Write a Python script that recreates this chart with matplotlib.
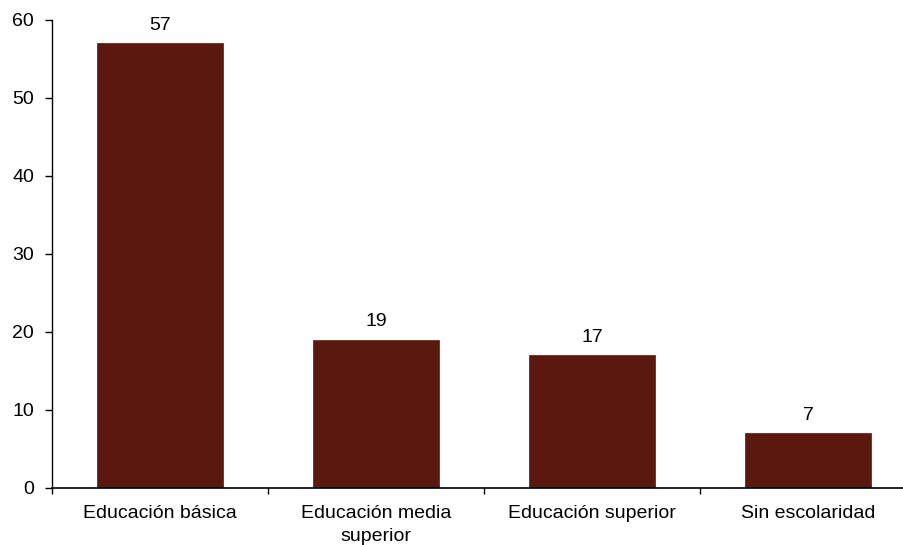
import matplotlib
matplotlib.use('Agg')
import matplotlib.pyplot as plt
import numpy as np

plt.rcParams['font.family'] = ['Liberation Sans', 'DejaVu Sans']

# categories and values
categories = ['Educación básica', 'Educación media\nsuperior', 'Educación superior', 'Sin escolaridad']
values = [57, 19, 17, 7]
yticks = [0, 10, 20, 30, 40, 50, 60]

BAR_COLOR = '#5A180F'

fig = plt.figure(figsize=(9.04, 5.45), dpi=100)
# axes runs off the right edge of the figure, as in the reference
ax = fig.add_axes([52 / 904, 57 / 545, 864 / 904, 468 / 545])

x = np.arange(len(categories))
bars = ax.bar(x, values, width=0.585, color=BAR_COLOR, edgecolor=BAR_COLOR, linewidth=0.5)

for xi, v in zip(x, values):
    ax.annotate(str(v), (xi, v), xytext=(0, 7), textcoords='offset points',
                ha='center', va='bottom', fontsize=14)

ax.set_xlim(-0.5, len(categories) - 0.5)
ax.set_ylim(0, 60)
ax.set_yticks(yticks)
ax.tick_params(axis='y', direction='out', length=5, width=1, pad=8, labelsize=14)

# category labels centred, tick marks on the boundaries
ax.set_xticks(x)
ax.set_xticklabels(categories, fontsize=14, linespacing=1.45, va='top')
ax.tick_params(axis='x', which='major', length=0, pad=12)
ax.set_xticks(np.arange(len(categories) + 1) - 0.5, minor=True)
ax.tick_params(axis='x', which='minor', direction='out', length=4.5, width=1)

for side in ['top', 'right']:
    ax.spines[side].set_visible(False)
ax.spines['left'].set_linewidth(1)
ax.spines['bottom'].set_linewidth(1.2)

fig.savefig('out.png', dpi=100)
